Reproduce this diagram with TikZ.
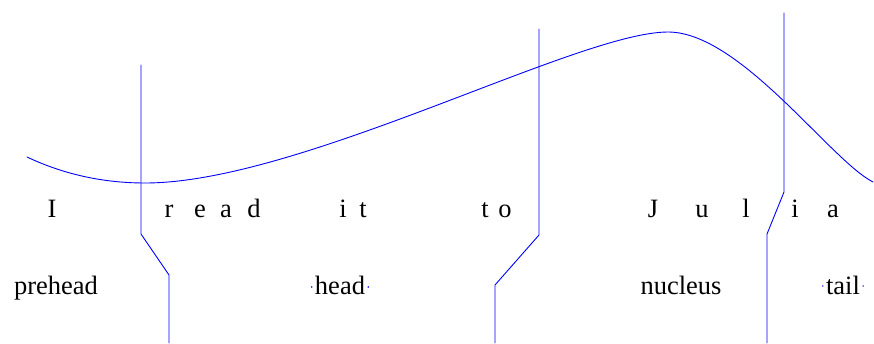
\documentclass[tikz,border=0pt]{standalone}
\usepackage{fontspec}
\setmainfont{Liberation Serif}
\begin{document}
\begin{tikzpicture}[x=1pt, y=-1pt]
% syllable boundaries over "I read it to Julia"
\providecommand{\bndLineColor}{blue}
\providecommand{\bndLineWidth}{0.9pt}
\providecommand{\segFont}{\fontsize{26.5}{30}\selectfont}
\useasboundingbox (0,0) rectangle (874,343);
\begin{scope}[every node/.style={anchor=base, inner sep=0pt, font=\segFont}]
  % Segment row
  \node (segI)  at (52,217)  {I};
  \node (segR)  at (169,217) {r};
  \node (segE)  at (200,217) {e};
  \node (segA)  at (226,217) {a};
  \node (segD)  at (254,217) {d};
  \node (segI2) at (343,217) {i};
  \node (segT)  at (363,217) {t};
  \node (segT2) at (485,217) {t};
  \node (segO)  at (505,217) {o};
  \node (segJ)  at (653,217) {J};
  \node (segU)  at (702,217) {u};
  \node (segL)  at (746,217) {l};
  \node (segI3) at (795,217) {i};
  \node (segA2) at (833,217) {a};
  % Constituent labels
  \node (prehead) at (56,294)  {prehead};
  \node (head)    at (340,294) {head};
  \node (nucleus) at (681,294) {nucleus};
  \node (tail)    at (843,294) {tail};
\end{scope}
\begin{scope}[draw=\bndLineColor, line width=\bndLineWidth, line join=round, line cap=round]
  % Pitch contour
  \draw (27,157) .. controls (65,175) and (105,183) .. (145,183)
        .. controls (300,183) and (578,32) .. (668,32)
        .. controls (740,32) and (830,160) .. (873,182);
  % Boundary lines
  \draw (141,65) -- (141,234) -- (169,275) -- (169,343);
  \draw (539,29) -- (539,235) -- (495,285) -- (495,343);
  \draw (784,13) -- (784,192) -- (767,234) -- (767,343);
\end{scope}
% Small marks beside head and tail
\begin{scope}[fill=\bndLineColor]
  \fill ([xshift=-3pt,yshift=7pt]head.base west) circle (0.8pt);
  \fill ([xshift=3pt,yshift=7pt]head.base east) circle (0.8pt);
  \fill ([xshift=-3pt,yshift=8pt]tail.base west) circle (0.8pt);
  \fill ([xshift=3pt,yshift=8pt]tail.base east) circle (0.8pt);
\end{scope}
\end{tikzpicture}
\end{document}
